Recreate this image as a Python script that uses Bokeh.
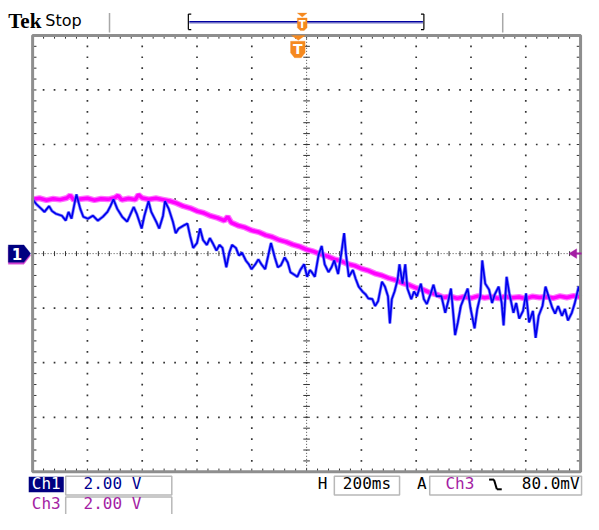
import numpy as np
from bokeh.plotting import figure
from bokeh.models import Range1d, Label, BoxAnnotation, PolyAnnotation, Arrow
from bokeh.embed import file_html
from bokeh.resources import INLINE

# ---------------- data (time in ms, voltage in V; 200 ms/div, 2 V/div) ----------------
ch1_t = [0, 14, 32, 43, 60, 71, 85, 107, 121, 131, 142, 156, 160, 174, 185, 202, 220, 238,
         256, 273, 284, 295, 309, 327, 345, 355, 369, 380, 398, 408, 423, 433, 451, 462,
         476, 483, 497, 512, 522,
         533, 551, 565, 575, 586, 600, 611, 622, 636, 647, 657, 671, 682, 693, 707, 718,
         728, 742, 753, 764, 778, 789, 799, 813, 824, 835, 849, 860, 870, 884, 895, 906,
         920, 931, 941, 956, 966, 977, 991, 1002, 1012,
         1019, 1030, 1044, 1055, 1066, 1080, 1091, 1101, 1115, 1126, 1137, 1144, 1154,
         1169, 1179, 1190, 1204, 1215, 1225, 1240, 1250, 1261, 1275, 1286, 1297, 1304,
         1311, 1321, 1332, 1339, 1350, 1360, 1368, 1382, 1392, 1403, 1417, 1428, 1439,
         1453, 1463, 1474,
         1492, 1506, 1517, 1527, 1535, 1542, 1552, 1563, 1577, 1588, 1598, 1613, 1623,
         1634, 1641, 1652, 1666, 1677, 1687, 1701, 1712, 1719, 1730, 1740, 1755, 1765,
         1776, 1790, 1801, 1812, 1826, 1836, 1847, 1861, 1872, 1883, 1897, 1907, 1918,
         1932, 1943, 1954, 1968, 1979, 1993, 2000]
ch1_v = [1.99, 1.81, 1.64, 1.53, 1.74, 1.56, 1.46, 1.39, 1.21, 1.53, 1.28, 1.99, 2.17, 1.64,
         1.35, 1.28, 1.39, 1.21, 1.35, 1.53, 1.74, 1.99, 1.64, 1.35, 1.17, 1.39, 1.71, 1.46,
         0.92, 1.39, 1.92, 1.53, 1.17, 0.92, 1.39, 1.92, 1.64, 1.17, 0.75,
         0.92, 1.03, 1.10, 0.64, 0.21, 0.39, 0.92, 0.50, 0.32, 0.57, 0.39, 0.11, 0.32, 0.21,
         -0.50, 0.04, 0.32, 0.21, -0.07, 0.04, -0.25, -0.39, -0.57, -0.39, -0.21, -0.39,
         -0.57, -0.07, 0.39, -0.14, -0.50, -0.43, -0.14, -0.32, -0.68, -0.78, -0.85, -0.60,
         -0.39, -0.85, -0.60,
         -0.68, -0.85, -0.04, 0.28, -0.39, -0.68, -0.50, -0.25, -0.75, -0.04, 0.75, -0.04,
         -0.85, -0.60, -0.92, -1.21, -1.39, -1.49, -1.64, -1.67, -1.92, -1.74, -1.03, -1.21,
         -1.56, -2.56, -1.67, -1.39, -0.96, -0.39, -1.10, -0.39, -1.28, -1.67, -1.39, -1.56,
         -1.10, -1.67, -1.85, -1.46, -1.14, -1.56,
         -1.56, -2.17, -1.74, -1.28, -2.17, -2.99, -2.52, -1.92, -1.56, -1.28, -1.99, -2.74,
         -2.03, -1.56, -0.25, -1.10, -1.32, -1.81, -1.49, -1.21, -1.81, -2.63, -0.85, -1.46,
         -2.17, -1.81, -2.38, -2.10, -1.46, -2.52, -2.10, -3.09, -2.28, -1.92, -1.21, -1.56,
         -1.99, -2.20, -1.92, -2.28, -2.03, -2.45, -2.17, -1.81, -1.21, -1.56]

ch3_t = [0, 25, 50, 75, 100, 125, 137, 150, 175, 200, 225, 250, 275, 300, 312, 325, 350,
         375, 386, 400, 425, 450, 475, 500, 525, 550, 575, 600, 625, 650, 675, 700, 712,
         725, 750, 775, 800, 825, 850, 875, 900, 925, 950, 975, 1000, 1025, 1050, 1075,
         1100, 1125, 1150, 1175, 1200, 1225, 1250, 1275, 1300, 1325, 1350, 1375, 1400,
         1425, 1450, 1475, 1500, 1525, 1550, 1575, 1600, 1625, 1650, 1675, 1700, 1725,
         1750, 1775, 1800, 1825, 1850, 1875, 1900, 1925, 1950, 1975, 2000]
ch3_v = [1.99, 2.03, 1.96, 2.01, 1.98, 2.04, 2.14, 1.97, 2.00, 2.03, 1.96, 2.01, 1.99, 2.05,
         2.13, 1.97, 2.02, 1.98, 2.16, 2.04, 1.99, 2.03, 1.98, 1.93, 1.85, 1.74, 1.67, 1.56,
         1.49, 1.38, 1.31, 1.21, 1.36, 1.14, 1.03, 0.96, 0.85, 0.79, 0.68, 0.61, 0.50, 0.43,
         0.33, 0.26, 0.15, 0.08, -0.02, -0.09, -0.20, -0.27, -0.38, -0.44, -0.55, -0.62,
         -0.73, -0.80, -0.90, -0.97, -1.08, -1.15, -1.26, -1.32, -1.43, -1.50, -1.61, -1.57,
         -1.64, -1.58, -1.63, -1.56, -1.62, -1.58, -1.64, -1.57, -1.62, -1.59, -1.65, -1.57,
         -1.61, -1.58, -1.63, -1.56, -1.61, -1.55, -1.59]

status_left = ["Tek", "Stop"]
ch1_label, ch3_label = "Ch1", "Ch3"
ch1_scale = "2.00 V"
ch3_scale = "2.00 V"
h_scale = "200ms"
trig_src = "Ch3"
trig_level = "80.0mV"

# ---------------- screen geometry ----------------
T0, T1 = 0, 2000          # 10 horizontal divisions
V0, V1 = -8, 8            # 8 vertical divisions
W, H = 583, 514

def RX(xr):               # horizontal position on the scope screen -> ms
    return (xr - 33.0) * (T1 - T0) / 563.0

def RY(yr):               # vertical position on the scope screen -> V
    return V1 - (yr - 36.0) * (V1 - V0) / 450.0

p = figure(width=W, height=H, output_backend="svg", toolbar_location=None,
           x_range=Range1d(RX(0), RX(599)), y_range=Range1d(RY(530), RY(0)),
           x_axis_location=None, y_axis_location=None,
           min_border_left=0, min_border_right=0, min_border_top=0, min_border_bottom=0,
           background_fill_color="white", border_fill_color="white",
           outline_line_color=None)
p.grid.visible = False

GRID = "#333333"

# graticule dots: every 1/5 division along each division line
gx, gy = [], []
for t in range(200, 2000, 200):
    if t == 1000:
        continue
    for v in np.arange(V0, V1 + 0.01, 0.4):
        gx.append(t); gy.append(round(float(v), 2))
for v in (-6, -4, -2, 2, 4, 6):
    for t in range(0, 2001, 40):
        gx.append(t); gy.append(v)
p.scatter(gx, gy, marker="square", size=1.7, fill_color=GRID, line_color=None)

# centre cross (dense dotted) with minor ticks
p.segment(x0=[T0, 1000], y0=[0, V0], x1=[T1, 1000], y1=[0, V1],
          line_color="#4a4a4a", line_dash="1 2", line_width=1)
ct = [float(t) for t in np.arange(T0, T1 + 1, 40)]
cv = [round(float(v), 2) for v in np.arange(V0, V1 + 0.01, 0.4)]
p.segment(x0=ct, y0=[-0.09] * len(ct), x1=ct, y1=[0.09] * len(ct),
          line_color=GRID, line_width=1)
p.segment(x0=[988] * len(cv), y0=cv, x1=[1012] * len(cv), y1=cv,
          line_color=GRID, line_width=1)

# border ticks (inside)
p.segment(x0=ct, y0=[V1] * len(ct), x1=ct, y1=[V1 - 0.12] * len(ct), line_color=GRID, line_width=1)
p.segment(x0=ct, y0=[V0] * len(ct), x1=ct, y1=[V0 + 0.12] * len(ct), line_color=GRID, line_width=1)
p.segment(x0=[T0] * len(cv), y0=cv, x1=[T0 + 14] * len(cv), y1=cv, line_color=GRID, line_width=1)
p.segment(x0=[T1] * len(cv), y0=cv, x1=[T1 - 14] * len(cv), y1=cv, line_color=GRID, line_width=1)

# traces
p.line(ch3_t, ch3_v, line_color="#ff70ff", line_width=6)
p.line(ch3_t, ch3_v, line_color="#ff00ff", line_width=3.5)
p.line(ch1_t, ch1_v, line_color="#6b6bff", line_width=3.2, line_alpha=0.8)
p.line(ch1_t, ch1_v, line_color="#0000ee", line_width=1.7)

# graticule frame
p.quad(left=[T0], right=[T1], bottom=[V0], top=[V1], fill_color=None,
       line_color="#8e8e8e", line_width=3)

# ---------------- annotation helpers ----------------
def poly(pts, color):
    p.add_layout(PolyAnnotation(xs=[RX(a) for a, b in pts], ys=[RY(b) for a, b in pts],
                                fill_color=color, fill_alpha=1.0,
                                line_color=color, line_width=1))

def seg(x0, y0, x1, y1, color, w):
    p.add_layout(Arrow(end=None, x_start=RX(x0), y_start=RY(y0), x_end=RX(x1), y_end=RY(y1),
                       line_color=color, line_width=w))

def txt(x, y, s, color, size, font="DejaVu Sans Mono", style="normal", align="left"):
    p.add_layout(Label(x=RX(x), y=RY(y), text=s, text_color=color, text_font_size=f"{size}px",
                       text_font=font, text_font_style=style, text_align=align,
                       text_baseline="middle"))

def box(x0, x1, y0, y1, fill=None, line="#b8b8b8"):
    p.add_layout(BoxAnnotation(left=RX(x0), right=RX(x1), top=RY(y0), bottom=RY(y1),
                               fill_color=fill if fill else "white",
                               fill_alpha=1.0 if fill else 0.0,
                               line_color=line if line else "white",
                               line_width=1.5, line_alpha=1.0 if line else 0.0))

ORANGE = "#f5891f"
NAVY = "#000080"
PURPLE = "#a41ea4"

# ---------------- top status bar ----------------
txt(8, 21, status_left[0], "black", 21, font="Liberation Serif", style="bold")
txt(46, 21, status_left[1], "black", 16, font="DejaVu Sans")
seg(112, 13, 112, 33, "#a8a8a8", 1.5)
seg(516, 13, 516, 33, "#a8a8a8", 1.5)
# record view bar
seg(194, 23.5, 434, 23.5, "#b8b8e0", 1.5)
seg(194, 22, 434, 22, "#0000a0", 1.5)
seg(193, 14, 193, 30, "black", 1.2)
seg(193, 14, 196, 14, "black", 1.2)
seg(193, 30, 196, 30, "black", 1.2)
seg(435, 14, 435, 30, "black", 1.2)
seg(432, 14, 435, 14, "black", 1.2)
seg(432, 30, 435, 30, "black", 1.2)
# small trigger position marker on the bar
poly([(305, 13), (315, 13), (310, 17)], ORANGE)
poly([(305, 18), (315, 18), (315, 28), (312, 31), (308, 31), (305, 28)], ORANGE)
txt(310, 24.5, "T", "white", 10, font="DejaVu Sans", style="bold", align="center")
# main trigger position marker
poly([(299, 36), (313, 36), (306, 41)], ORANGE)
poly([(298, 42), (313, 42), (313, 54), (309, 59), (302, 59), (298, 54)], ORANGE)
txt(305.5, 50, "T", "white", 14, font="DejaVu Sans", style="bold", align="center")

# channel ground markers (Ch3 behind Ch1)
poly([(8, 254), (24, 254), (31, 263), (24, 272), (8, 272)], "#d040d0")
poly([(8, 252), (24, 252), (31, 261), (24, 270), (8, 270)], NAVY)
txt(17, 261, "1", "white", 15, font="DejaVu Sans", style="bold", align="center")
# trigger level marker (right)
poly([(584, 261), (592, 256), (592, 266)], PURPLE)
seg(591, 261, 597, 261, PURPLE, 2)

# ---------------- bottom readouts ----------------
R1, R2 = 498.5, 519
box(29, 65, 491, 507, fill=NAVY, line=None)
txt(47, R1, ch1_label, "white", 16, align="center")
box(67, 176, 490.5, 510)
txt(115, R1, ch1_scale, "#000090", 16, align="center")
txt(331, R1, "H", "black", 16, align="center")
box(343, 410, 490.5, 510)
txt(376.5, R1, h_scale, "black", 16, align="center")
txt(433, R1, "A", "black", 16, align="center")
box(441, 597, 490.5, 510)
txt(472, R1, trig_src, PURPLE, 16, align="center")
seg(502, 494, 507, 494, "black", 2)
seg(507, 494, 510, 504, "black", 2)
seg(510, 504, 515, 504, "black", 2)
txt(595, R1, trig_level, "black", 16, align="right")

txt(47, R2, ch3_label, PURPLE, 16, align="center")
box(67, 176, 512, 532)
txt(115, R2, ch3_scale, PURPLE, 16, align="center")

open("out.html", "w").write(file_html(p, INLINE))
